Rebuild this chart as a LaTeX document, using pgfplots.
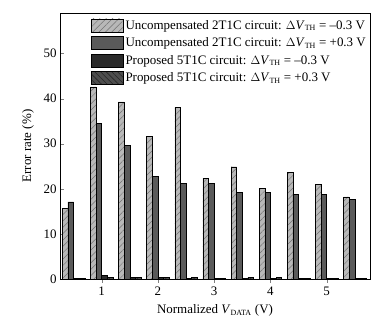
\documentclass[border=0pt]{standalone}
\usepackage{pgfplots}
\pgfplotsset{compat=1.18}
\usepackage{fontspec}
\setmainfont{Liberation Serif}
\usetikzlibrary{patterns.meta}
\definecolor{lg}{HTML}{B8B8B8}
\definecolor{dg}{HTML}{5A5A5A}
\definecolor{bk}{HTML}{2A2A2A}
\definecolor{mg}{HTML}{4E4E4E}
\begin{document}
\begin{tikzpicture}
\useasboundingbox (-60bp,-43bp) rectangle (318bp,279bp);
\begin{axis}[
  scale only axis,
  width=310bp, height=266bp,
  xmin=0.26, xmax=5.77,
  ymin=0, ymax=59,
  xtick={1,2,3,4,5},
  ytick={0,10,20,30,40,50},
  tick align=inside,
  xtick pos=bottom, ytick pos=left,
  major tick length=4bp,
  ybar=0pt,
  bar width=0.1,
  font=\fontsize{13}{15}\selectfont,
  tick label style={font=\fontsize{13}{15}\selectfont},
  /pgf/number format/assume math mode=true,
  xlabel={Normalized \textit{V}\textsubscript{\fontsize{8}{9}\selectfont DATA} (V)},
  ylabel={Error rate (\%)},
  xlabel style={at={(rel axis cs:0.5,0)}, yshift=-22bp, anchor=north},
  ylabel style={at={(rel axis cs:0,0.5)}, anchor=center, yshift=32bp},
  legend style={draw=none, fill=none, at={(1,1)}, anchor=north east, yshift=-3bp,
    font=\fontsize{13}{15}\selectfont, row sep=3bp, inner sep=2bp},
  legend cell align=left,
  legend image code/.code={\draw[#1] (0bp,-6.5bp) rectangle (32bp,6.5bp);},
  axis line style={line width=0.9pt},
]
\addplot[draw=black, line width=0.4pt, fill=lg, postaction={pattern={Lines[angle=45,distance=4.5bp,line width=0.5bp]}, pattern color=black!55}] coordinates {
(0.5,15.6) (1,42.6) (1.5,39.3) (2,31.7) (2.5,38.1) (3,22.4) (3.5,24.9) (4,20.1) (4.5,23.7) (5,21.0) (5.5,18.2)};
\addplot[draw=black, line width=0.4pt, fill=dg] coordinates {
(0.5,17.1) (1,34.6) (1.5,29.7) (2,22.7) (2.5,21.2) (3,21.2) (3.5,19.2) (4,19.2) (4.5,18.75) (5,18.8) (5.5,17.6)};
\addplot[draw=black, line width=0.4pt, fill=bk] coordinates {
(0.5,0.2) (1,0.8) (1.5,0.4) (2,0.4) (2.5,0.2) (3,0.2) (3.5,0.1) (4,0.1) (4.5,0.1) (5,0.1) (5.5,0.2)};
\addplot[draw=black, line width=0.4pt, fill=mg, postaction={pattern={Lines[angle=-45,distance=4bp,line width=0.6bp]}, pattern color=black!85}] coordinates {
(0.5,0.2) (1,0.3) (1.5,0.4) (2,0.4) (2.5,0.4) (3,0.1) (3.5,0.4) (4,0.4) (4.5,0.2) (5,0.2) (5.5,0.2)};
\legend{Uncompensated 2T1C circuit: $\Delta$\textit{V}\textsubscript{\fontsize{8}{9}\selectfont TH} = –0.3 V,
Uncompensated 2T1C circuit: $\Delta$\textit{V}\textsubscript{\fontsize{8}{9}\selectfont TH} = +0.3 V,
Proposed 5T1C circuit: $\Delta$\textit{V}\textsubscript{\fontsize{8}{9}\selectfont TH} = –0.3 V,
Proposed 5T1C circuit: $\Delta$\textit{V}\textsubscript{\fontsize{8}{9}\selectfont TH} = +0.3 V}
\end{axis}
\end{tikzpicture}
\end{document}
